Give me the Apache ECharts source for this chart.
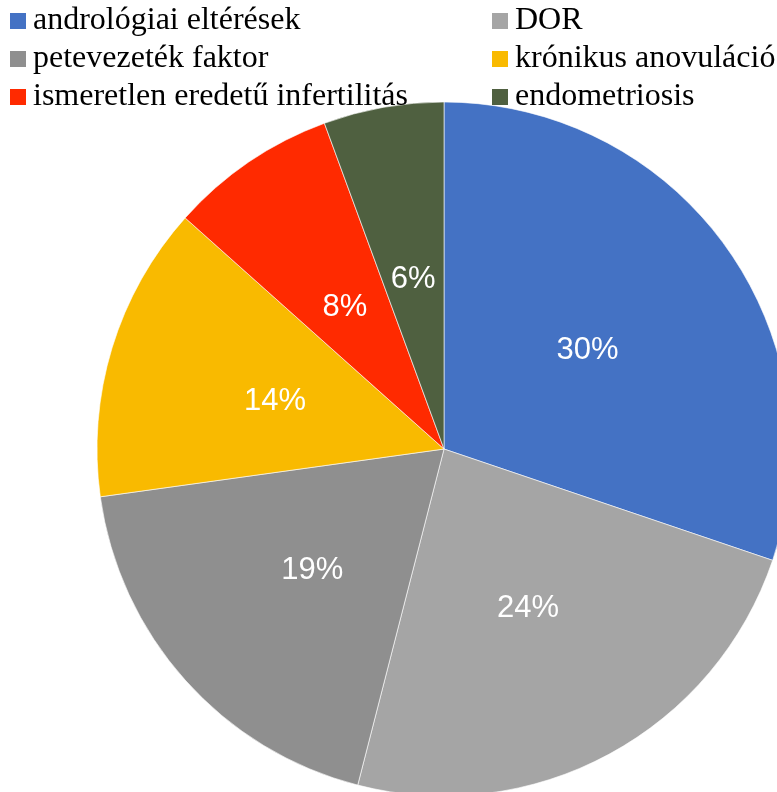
<!DOCTYPE html>
<html>
<head>
<meta charset="utf-8">
<script src="https://cdn.jsdelivr.net/npm/echarts@6/dist/echarts.min.js"></script>
<style>html,body{margin:0;padding:0;background:#fff;}#c{width:777px;height:792px;}</style>
</head>
<body>
<div id="c"></div>
<script>
const categories = ['andrológiai eltérések','DOR','petevezeték faktor','krónikus anovuláció','ismeretlen eredetű infertilitás','endometriosis'];
const values = [30.2, 23.8, 18.8, 13.8, 7.8, 5.6];
const colors = ['#4472C4','#A5A5A5','#8F8F8F','#F9BA00','#FF2A00','#4F6040'];
const legendLeft = [categories[0], categories[2], categories[4]];
const legendRight = [categories[1], categories[3], categories[5]];

const total = values.reduce((a,b)=>a+b,0);
const chart = echarts.init(document.getElementById('c'), null, {renderer:'canvas'});
const legendCommon = {
  orient:'vertical', top:5, padding:0, icon:'rect', itemWidth:16, itemHeight:16, itemGap:6,
  itemStyle:{borderWidth:0},
  textStyle:{fontFamily:'Liberation Serif', fontSize:32, lineHeight:28, color:'#000', padding:[4,0,0,2]},
  selectedMode:false
};
chart.setOption({
  animation:false,
  color: colors,
  legend:[
    Object.assign({}, legendCommon, {left:10, data:legendLeft}),
    Object.assign({}, legendCommon, {left:492, data:legendRight})
  ],
  series:[{
    type:'pie',
    center:[444,449],
    radius:[0,347],
    startAngle:90,
    clockwise:true,
    z:1,
    itemStyle:{borderColor:'#fff', borderWidth:0.6},
    label:{show:true, position:'inside', color:'#fff', fontFamily:'Liberation Sans', fontSize:31,
      offset:[0,4],
      formatter: p => Math.round(p.value/total*100) + '%'},
    labelLine:{show:false},
    emphasis:{disabled:true},
    data: categories.map((c,i)=>({name:c, value:values[i]}))
  }]
});
</script>
</body>
</html>
